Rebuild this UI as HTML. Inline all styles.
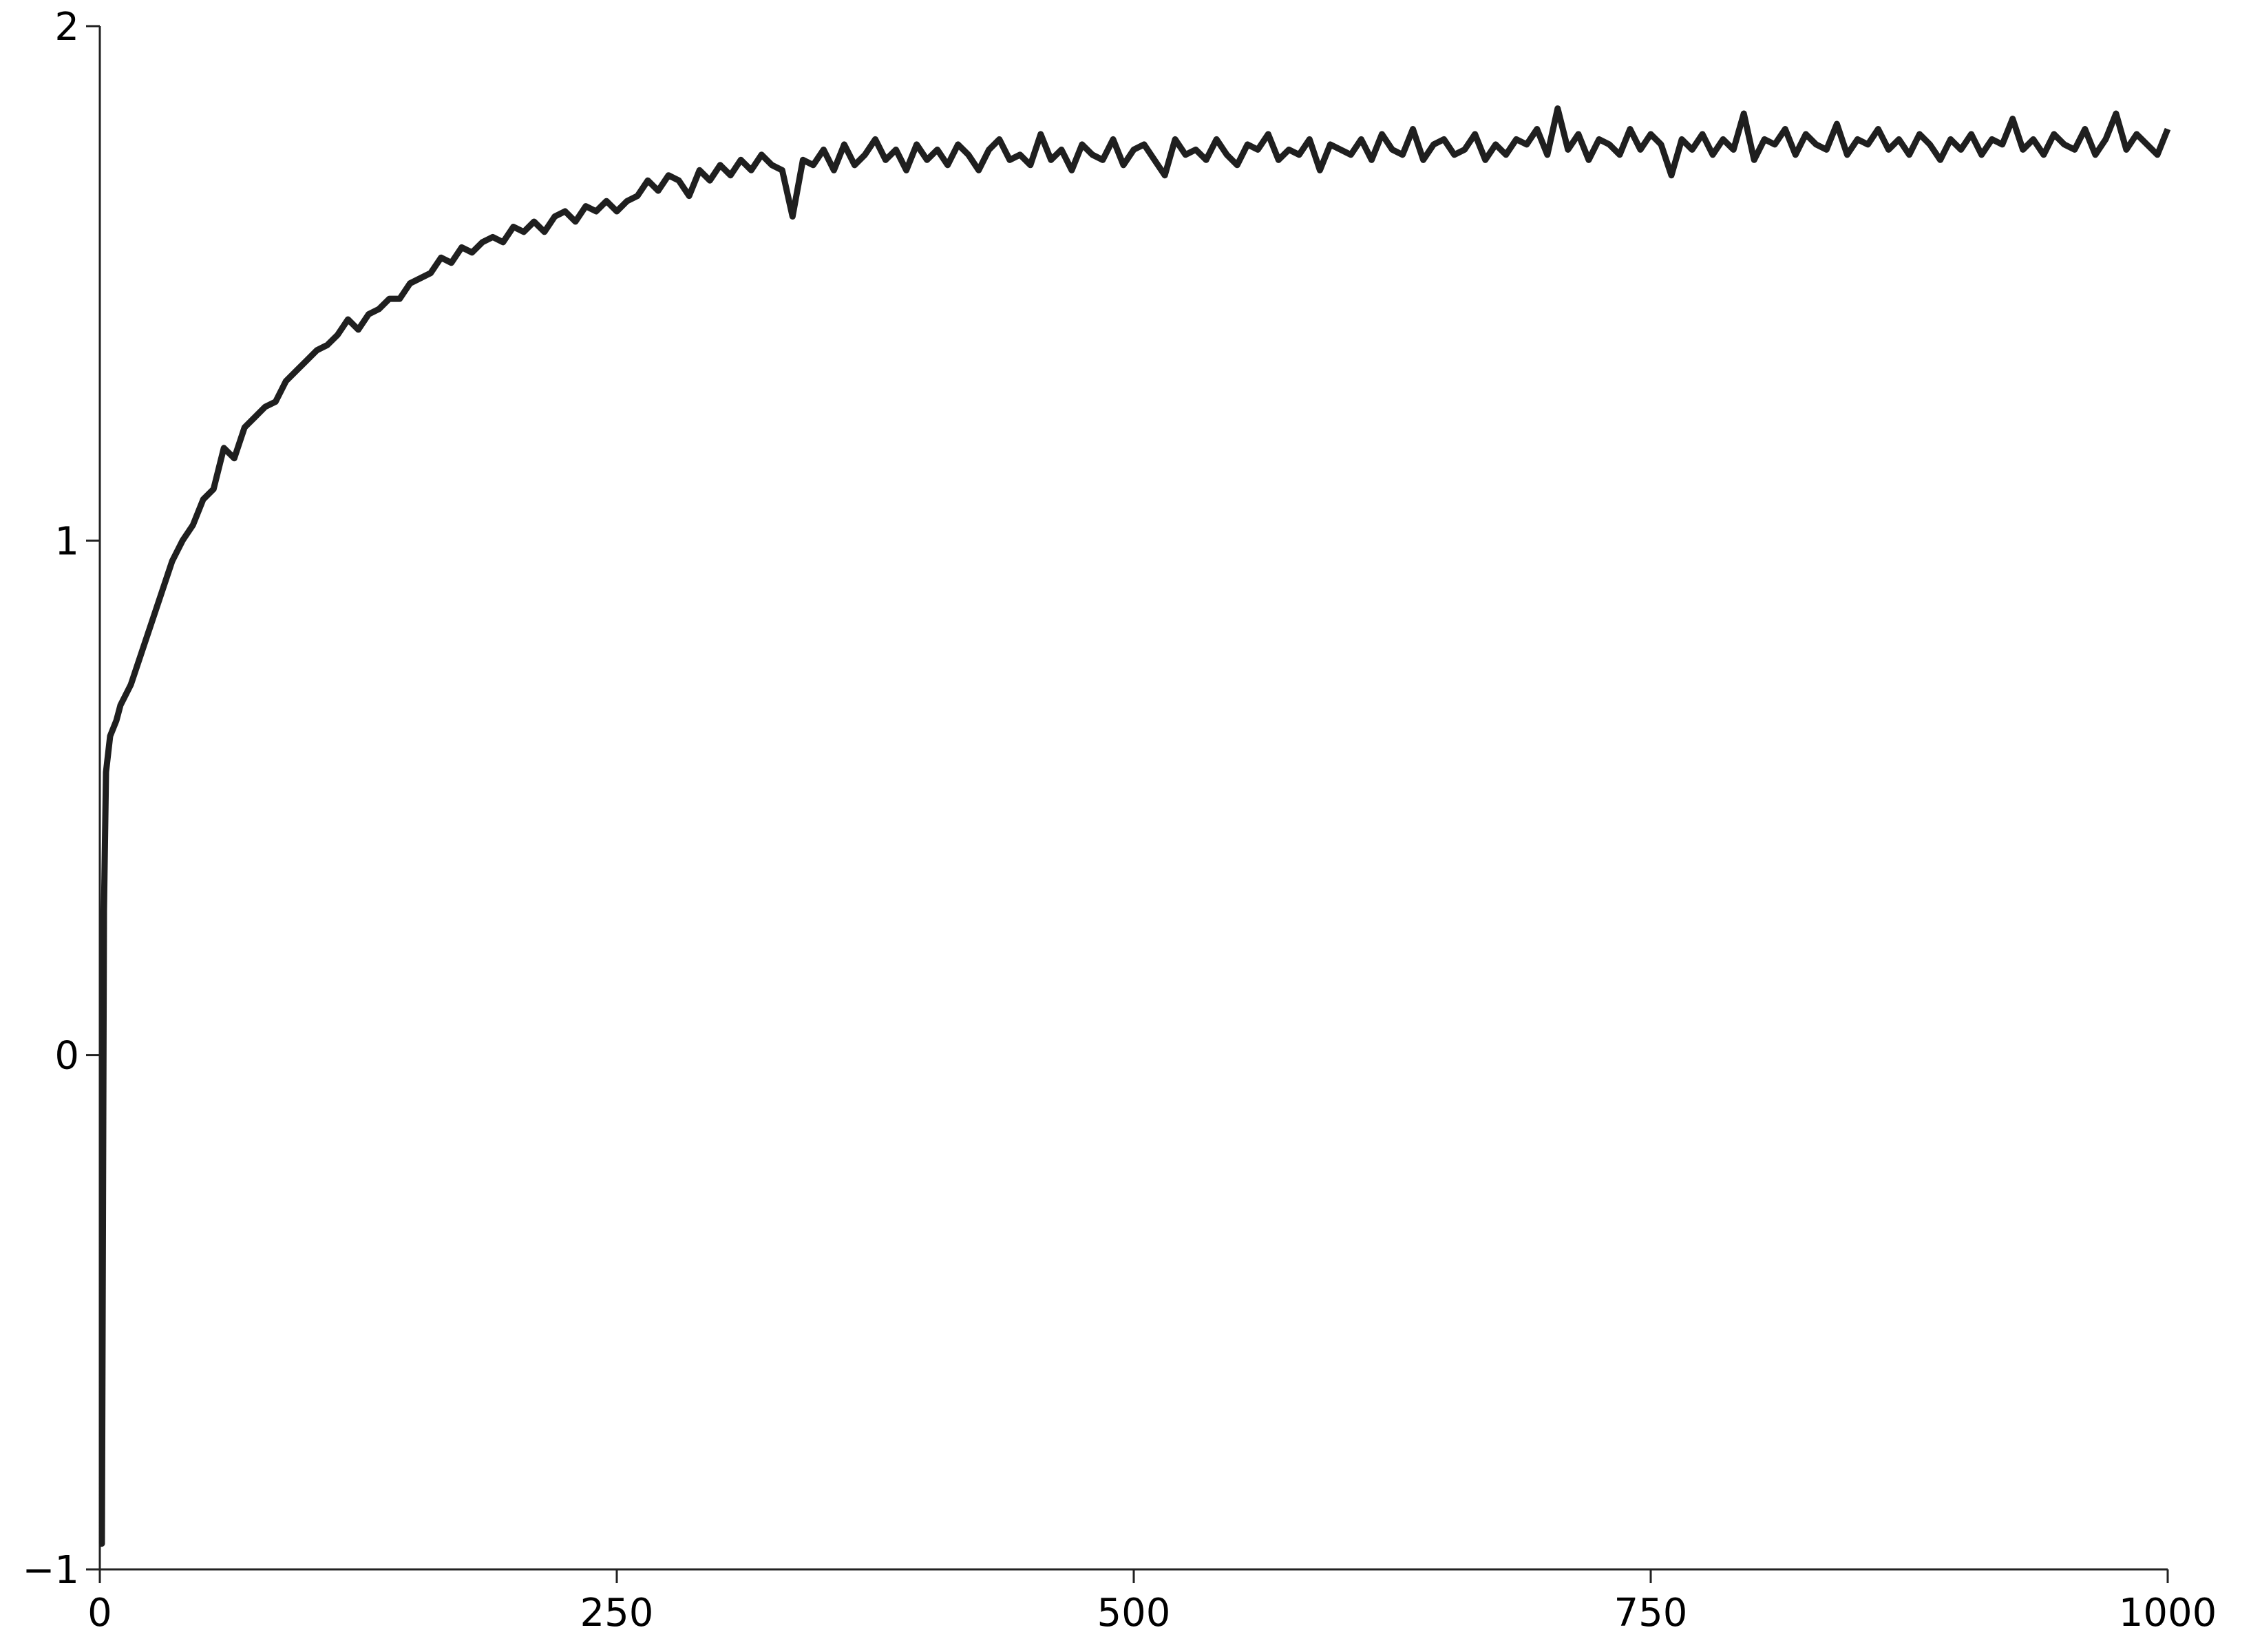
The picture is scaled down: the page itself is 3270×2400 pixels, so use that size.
<!DOCTYPE html>
<html><head><meta charset="utf-8"><style>
html,body{margin:0;padding:0;background:#fff;}
svg{display:block;}
text{font-family:"DejaVu Sans","Liberation Sans",sans-serif;font-size:56px;fill:#000;}
</style></head><body>
<svg id="chart" width="3270" height="2400" viewBox="0 0 3270 2400" xmlns="http://www.w3.org/2000/svg">
<g id="axes"></g>
<path id="series" fill="none" stroke="#1f1f1f" stroke-width="9" stroke-linejoin="round"/>
</svg>
<script>
const xTicks = [0, 250, 500, 750, 1000];
const yTicks = [-1, 0, 1, 2];
const xValues = [0,1,2,3,5,8,10,15,20,25,30,35,40,45,50,55,60,65,70,75,80,85,90,95,100,105,110,115,120,125,130,135,140,145,150,155,160,165,170,175,180,185,190,195,200,205,210,215,220,225,230,235,240,245,250,255,260,265,270,275,280,285,290,295,300,305,310,315,320,325,330,335,340,345,350,355,360,365,370,375,380,385,390,395,400,405,410,415,420,425,430,435,440,445,450,455,460,465,470,475,480,485,490,495,500,505,510,515,520,525,530,535,540,545,550,555,560,565,570,575,580,585,590,595,600,605,610,615,620,625,630,635,640,645,650,655,660,665,670,675,680,685,690,695,700,705,710,715,720,725,730,735,740,745,750,755,760,765,770,775,780,785,790,795,800,805,810,815,820,825,830,835,840,845,850,855,860,865,870,875,880,885,890,895,900,905,910,915,920,925,930,935,940,945,950,955,960,965,970,975,980,985,990,995,1000];
const yValues = [-0.95,-0.95,0.28,0.55,0.62,0.65,0.68,0.72,0.78,0.84,0.90,0.96,1.00,1.03,1.08,1.10,1.18,1.16,1.22,1.24,1.26,1.27,1.31,1.33,1.35,1.37,1.38,1.40,1.43,1.41,1.44,1.45,1.47,1.47,1.50,1.51,1.52,1.55,1.54,1.57,1.56,1.58,1.59,1.58,1.61,1.60,1.62,1.60,1.63,1.64,1.62,1.65,1.64,1.66,1.64,1.66,1.67,1.70,1.68,1.71,1.70,1.67,1.72,1.70,1.73,1.71,1.74,1.72,1.75,1.73,1.72,1.63,1.74,1.73,1.76,1.72,1.77,1.73,1.75,1.78,1.74,1.76,1.72,1.77,1.74,1.76,1.73,1.77,1.75,1.72,1.76,1.78,1.74,1.75,1.73,1.79,1.74,1.76,1.72,1.77,1.75,1.74,1.78,1.73,1.76,1.77,1.74,1.71,1.78,1.75,1.76,1.74,1.78,1.75,1.73,1.77,1.76,1.79,1.74,1.76,1.75,1.78,1.72,1.77,1.76,1.75,1.78,1.74,1.79,1.76,1.75,1.80,1.74,1.77,1.78,1.75,1.76,1.79,1.74,1.77,1.75,1.78,1.77,1.80,1.75,1.84,1.76,1.79,1.74,1.78,1.77,1.75,1.80,1.76,1.79,1.77,1.71,1.78,1.76,1.79,1.75,1.78,1.76,1.83,1.74,1.78,1.77,1.80,1.75,1.79,1.77,1.76,1.81,1.75,1.78,1.77,1.80,1.76,1.78,1.75,1.79,1.77,1.74,1.78,1.76,1.79,1.75,1.78,1.77,1.82,1.76,1.78,1.75,1.79,1.77,1.76,1.80,1.75,1.78,1.83,1.76,1.79,1.77,1.75,1.80,1.76,1.78];

const X0 = 145, X1 = 3149, Y0 = 2280, Y1 = 38;
const xScale = v => X0 + (v - 0) / 1000 * (X1 - X0);
const yScale = v => Y0 - (v + 1) / 3 * (Y0 - Y1);
const NS = "http://www.w3.org/2000/svg";
const axes = document.getElementById('axes');
function mk(tag, attrs) { const e = document.createElementNS(NS, tag); for (const k in attrs) e.setAttribute(k, attrs[k]); axes.appendChild(e); return e; }

const xAxis = mk('line', {x1: X0, y1: Y0, x2: X1, y2: Y0, stroke: '#222', 'stroke-width': 3});


const yAxis = mk('line', {x1: X0, y1: Y0, x2: X0, y2: Y1, stroke: '#222', 'stroke-width': 3});



xTicks.forEach(t => {
  const x = xScale(t);
  const tk = mk('line', {x1: x, y1: Y0, x2: x, y2: Y0 + 20, stroke: '#222', 'stroke-width': 3});
  
  
  const lb = mk('text', {x: x, y: Y0 + 82, 'text-anchor': 'middle'});
  lb.textContent = String(t);
  
  
});
yTicks.forEach(t => {
  const y = yScale(t);
  const tk = mk('line', {x1: X0 - 20, y1: y, x2: X0, y2: y, stroke: '#222', 'stroke-width': 3});
  
  
  const lb = mk('text', {x: X0 - 30, y: y + 20, 'text-anchor': 'end'});
  lb.textContent = t < 0 ? '\u2212' + Math.abs(t) : String(t);
  
  
});

let d = '';
xValues.forEach((xv, i) => { d += (i ? 'L' : 'M') + xScale(xv).toFixed(1) + ',' + yScale(yValues[i]).toFixed(1); });
document.getElementById('series').setAttribute('d', d);
</script>
</body></html>
